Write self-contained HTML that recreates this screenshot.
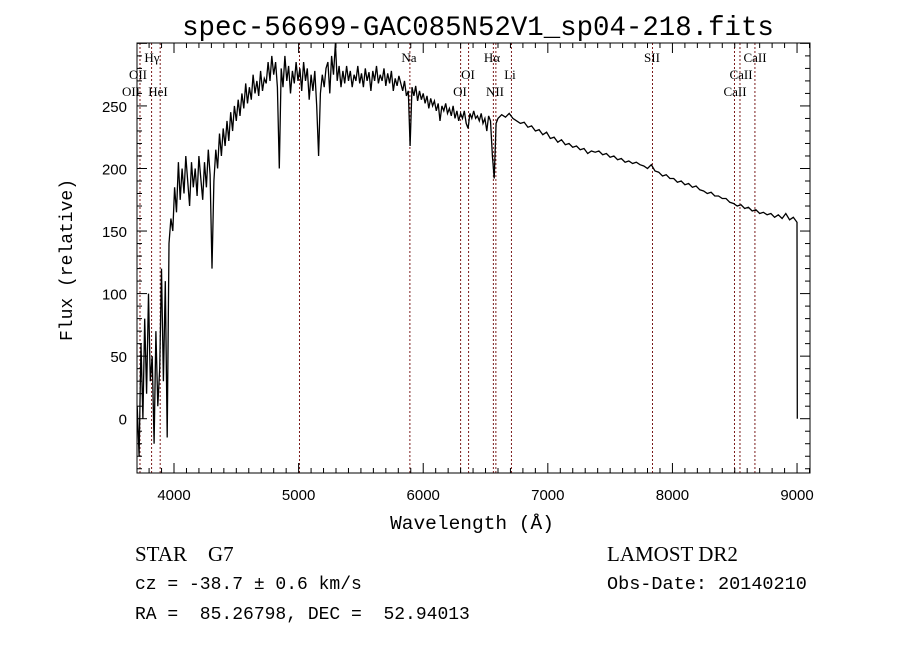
<!DOCTYPE html>
<html><head><meta charset="utf-8"><style>
body{margin:0;background:#fff;}
svg text{fill:#000;white-space:pre;}
</style></head><body>
<svg id="chart" width="900" height="649" xmlns="http://www.w3.org/2000/svg" xml:space="preserve">
<rect width="900" height="649" fill="#fff"/>
<text x="478" y="35" text-anchor="middle" font-family="Liberation Mono, monospace" font-size="27.4">spec-56699-GAC085N52V1_sp04-218.fits</text>
<g id="plot"></g>
<text x="472" y="529" text-anchor="middle" font-family="Liberation Mono, monospace" font-size="19.5">Wavelength (Å)</text>
<text transform="translate(72,260) rotate(-90)" text-anchor="middle" font-family="Liberation Mono, monospace" font-size="18">Flux (relative)</text>
<text x="135" y="561" font-family="Liberation Serif, serif" font-size="21">STAR    G7</text>
<text x="607" y="561" font-family="Liberation Serif, serif" font-size="21">LAMOST DR2</text>
<text x="135" y="589" font-family="Liberation Mono, monospace" font-size="18">cz = -38.7 ± 0.6 km/s</text>
<text x="607" y="589" font-family="Liberation Mono, monospace" font-size="18.5">Obs-Date: 20140210</text>
<text x="135" y="619" font-family="Liberation Mono, monospace" font-size="18">RA =  85.26798, DEC =  52.94013</text>
</svg>
<script>
const seg1Start = 3705, seg1Step = 15;
const seg1Flux = [10,-30,60,0,80,20,100,30,50,-20,70,10,40,120,30,110,-15,140,160,150,
185,165,205,175,200,180,210,190,170,205,185,200,178,210,192,175,205,185,215,195,120,190,215,200,228,210,232,218,238,222,245,230,250,238,255,242,260,248,268,252,265,255,275,260,270,258,278,262,272,268,285,270,290,275,285,265,200,280,265,290,270,282,260,278,268,285,270,280,262,285,270,280,255,275,262,278,250,210,260,275,265,280,285,260,290,275,300,270,282,265,278,268,282,270,278,265,275,270,282,268,276,265,280,270,277,262,278,270,282,268,275,270,280,266,276,268,278,262,272,266,274,268,262,270,258,262,218,265,258,266,254,262,255,260,252,258,248,256,250,254,246,252,238,250,246,252,244,248,242,250,240,246,238,244,240,246,236,232,244,240,246,240,242,238,244,236,240,230,242,238,210,192,236,240];
const seg2Start = 6630, seg2Step = 30;
const seg2Flux = [243,241,244,240,238,236,237,233,234,230,231,227,229,224,225,221,223,219,220,217,218,215,216,212,214,213,214,211,212,209,210,207,208,205,206,204,205,203,202,200,203,198,197,194,195,192,192,189,190,187,188,185,186,183,182,180,181,178,178,176,176,173,172,170,171,168,169,166,167,164,165,163,164,161,163,160,164,159,161,157];
const lineWaves = [3727,3820,3889,5007,5893,6300,6364,6563,6583,6708,7840,8498,8542,8662];
const lineLabels = [["Hγ",152,57],["OII",138,74],["OII",131,91],["HeI",158,91],["Na",409,57],["OI",468,74],["OI",460,91],["Hα",492,57],["NII",495,91],["Li",510,74],["SII",652,57],["CaII",755,57],["CaII",741,74],["CaII",735,91]];
const xTicks = [4000,5000,6000,7000,8000,9000];
const yTicks = [0,50,100,150,200,250];

const L=137,R=810,T=43,B=473;
const xMin=3703, xMax=9104, yMin=-43.4, yMax=300.3;
const X=w=>L+(w-xMin)/(xMax-xMin)*(R-L);
const Y=f=>B-(f-yMin)/(yMax-yMin)*(B-T);
const NS="http://www.w3.org/2000/svg";
const g=document.getElementById('plot');
function mk(tag,attrs){const e=document.createElementNS(NS,tag);for(const k in attrs)e.setAttribute(k,attrs[k]);g.appendChild(e);return e;}

lineWaves.forEach(w=>{
  const l=mk('line',{x1:X(w),x2:X(w),y1:T,y2:B,stroke:'#7a1a1a','stroke-width':1,'stroke-dasharray':'2,2'});
  
  
});
lineLabels.forEach(d=>{
  const t=mk('text',{x:d[1],y:d[2]+5,'text-anchor':'middle','font-family':'Liberation Serif, serif','font-size':13});
  t.textContent=d[0];
  
  
});

let pts=[];
seg1Flux.forEach((f,i)=>pts.push([seg1Start+i*seg1Step,f]));
seg2Flux.forEach((f,i)=>pts.push([seg2Start+i*seg2Step,f]));
pts.push([9002,0]);
const d=pts.map((p,i)=>(i?'L':'M')+X(p[0]).toFixed(1)+' '+Y(Math.max(yMin,Math.min(yMax,p[1]))).toFixed(1)).join(' ');
const path=mk('path',{d:d,fill:'none',stroke:'#000','stroke-width':1.3});



const fr=mk('rect',{x:L,y:T,width:R-L,height:B-T,fill:'none',stroke:'#000','stroke-width':1});



for(let w=3800;w<=9100;w+=100){
  const major=w%1000===0, len=major?10:5;
  mk('line',{x1:X(w),x2:X(w),y1:B,y2:B-len,stroke:'#000'});
  mk('line',{x1:X(w),x2:X(w),y1:T,y2:T+len,stroke:'#000'});
}
xTicks.forEach(v=>{
  const t=mk('text',{x:X(v),y:500,'text-anchor':'middle','font-family':'Liberation Sans, sans-serif','font-size':15});
  t.textContent=v;
  
  
});
for(let f=-40;f<=300;f+=10){
  const major=f%50===0, len=major?10:5;
  mk('line',{x1:L,x2:L+len,y1:Y(f),y2:Y(f),stroke:'#000'});
  mk('line',{x1:R,x2:R-len,y1:Y(f),y2:Y(f),stroke:'#000'});
}
yTicks.forEach(v=>{
  const t=mk('text',{x:127,y:Y(v)+6,'text-anchor':'end','font-family':'Liberation Sans, sans-serif','font-size':15});
  t.textContent=v;
  
  
});
</script>
</body></html>
